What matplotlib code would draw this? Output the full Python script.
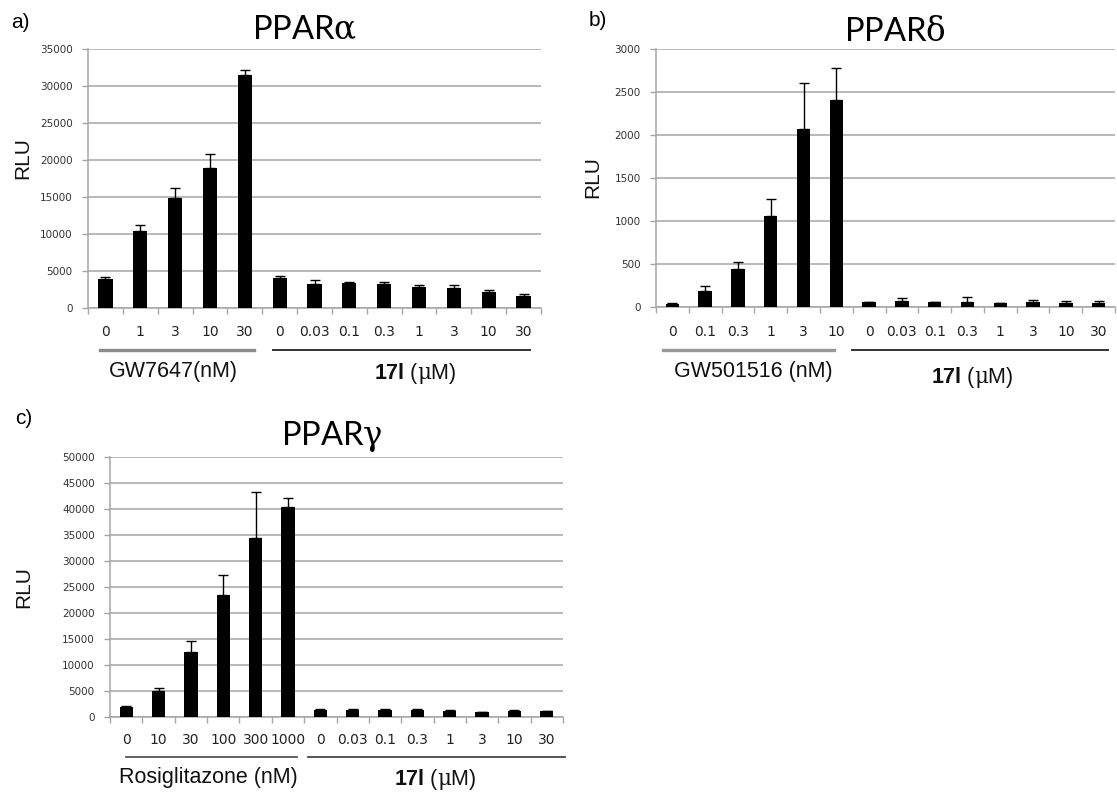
import numpy as np
import matplotlib
matplotlib.use("Agg")
import matplotlib.pyplot as plt
from matplotlib.lines import Line2D
import matplotlib.transforms as mtransforms

plt.rcParams['mathtext.fontset'] = 'custom'
plt.rcParams['mathtext.rm'] = 'DejaVu Serif'
plt.rcParams['mathtext.bf'] = 'Liberation Sans:bold'
plt.rcParams['mathtext.it'] = 'DejaVu Serif'

# ---------------- data ----------------
ref_a_labels = ['0', '1', '3', '10', '30']
ref_b_labels = ['0', '0.1', '0.3', '1', '3', '10']
ref_c_labels = ['0', '10', '30', '100', '300', '1000']
cmpd_labels = ['0', '0.03', '0.1', '0.3', '1', '3', '10', '30']

a_vals = [3900, 10400, 14800, 18900, 31500, 4000, 3200, 3400, 3200, 2800, 2650, 2200, 1600]
a_err = [300, 850, 1450, 1850, 650, 300, 550, 100, 300, 280, 450, 270, 300]

b_vals = [40, 185, 443, 1061, 2068, 2410, 55, 75, 55, 60, 45, 60, 50, 50]
b_err = [10, 60, 78, 200, 540, 373, 8, 27, 8, 60, 5, 25, 20, 15]

c_vals = [1900, 5000, 12500, 23500, 34400, 40300, 1400, 1300, 1300, 1400, 1200, 1000, 1100, 1100]
c_err = [300, 600, 2100, 3800, 8900, 1800, 200, 150, 150, 150, 100, 50, 200, 150]

titles = ['PPAR$\\mathrm{\\alpha}$', 'PPAR$\\mathrm{\\delta}$', 'PPAR$\\mathrm{\\gamma}$']
panel_tags = ['a)', 'b)', 'c)']
ref_names = ['GW7647(nM)', 'GW501516 (nM)', 'Rosiglitazone (nM)']
cmpd_name = '$\\mathbf{17l}$ ($\\mathrm{\\mu}$M)'
y_max = [35000, 3000, 50000]
y_step = [5000, 500, 5000]

W, H = 1117, 794
fig = plt.figure(figsize=(W / 100, H / 100), dpi=100)


def fx(x):
    return x / W


def fy(y):
    return 1 - y / H


GRID = '#a6a6a6'

# layout: (left, right, top, bottom) in px
boxes = [(88, 541, 49, 308), (656, 1115, 49, 307), (110, 563, 457, 717)]
# group line extents in data units and colours
ref_lines = [(-0.15, 4.27, '#8c8c8c', 2.4), (-0.29, 4.93, '#999999', 2.4), (0.0, 5.29, '#555555', 1.3)]
cmp_lines = [(4.82, 12.17, '#333333', 1.4), (5.48, 13.28, '#333333', 1.4), (5.63, 13.56, '#444444', 1.3)]
line_y = [350, 350, 757]
tick_y = [332, 332, 740]
ref_lab_pos = [(173, 372), (753, 372), (208, 777)]
cmp_lab_pos = [(415, 374), (972, 378), (435, 779)]
title_pos = [(304, 30), (895, 32), (332, 437)]
tag_pos = [(20, 22), (598, 20), (24, 418)]
rlu_pos = [(23, 158), (593, 177), (24, 587)]

datasets = [(ref_a_labels, a_vals, a_err), (ref_b_labels, b_vals, b_err), (ref_c_labels, c_vals, c_err)]

for k in range(3):
    l, r, t, b = boxes[k]
    ax = fig.add_axes([fx(l), fy(b), fx(r - l), (b - t) / H])
    ref_labels, vals, errs = datasets[k]
    labels = ref_labels + cmpd_labels
    n = len(labels)
    x = np.arange(n)
    vals = np.array(vals, dtype=float)
    errs = np.array(errs, dtype=float)
    ax.bar(x, vals, width=0.41, color='black', zorder=3)
    ax.errorbar(x, vals, yerr=[np.zeros(n), errs], fmt='none', ecolor='black',
                elinewidth=1.0, capsize=3.8, capthick=1.0, zorder=4)
    ax.set_xlim(-0.5, n - 0.5)
    ax.set_ylim(0, y_max[k])
    ax.set_yticks(np.arange(0, y_max[k] + 1, y_step[k]))
    ax.yaxis.grid(True, color=GRID, linewidth=1.1, zorder=0)
    ax.set_axisbelow(True)
    for s in ['top', 'right']:
        ax.spines[s].set_visible(False)
    for s in ['left', 'bottom']:
        ax.spines[s].set_color(GRID)
        ax.spines[s].set_linewidth(1.1)
    ax.tick_params(axis='y', length=4, width=1, color=GRID, labelsize=7.5,
                   labelcolor='#333333', pad=7)
    ax.set_xticks(x)
    ax.set_xticklabels([])
    ax.set_xticks(np.arange(-0.5, n, 1.0), minor=True)
    ax.tick_params(axis='x', which='major', length=0)
    ax.tick_params(axis='x', which='minor', length=4, width=1, color=GRID)
    # x tick labels
    trans = mtransforms.blended_transform_factory(ax.transData, fig.transFigure)
    for xi, lab in zip(x, labels):
        fig.text(0, 0, lab, transform=trans, fontsize=10, color='#222222',
                 ha='center', va='center').set_position((xi, fy(tick_y[k])))
    # group lines
    x0, x1, col, lw = ref_lines[k]
    fig.add_artist(Line2D([x0, x1], [fy(line_y[k])] * 2, transform=trans, color=col, lw=lw))
    x0, x1, col, lw = cmp_lines[k]
    fig.add_artist(Line2D([x0, x1], [fy(line_y[k])] * 2, transform=trans, color=col, lw=lw))
    # group labels
    fig.text(fx(ref_lab_pos[k][0]), fy(ref_lab_pos[k][1]), ref_names[k],
             family='Liberation Sans', fontsize=15.5, color='#111111', ha='center', va='center')
    fig.text(fx(cmp_lab_pos[k][0]), fy(cmp_lab_pos[k][1]), cmpd_name,
             family='Liberation Sans', fontsize=15.5, color='#111111', ha='center', va='center')
    # title
    fig.text(fx(title_pos[k][0]), fy(title_pos[k][1]), titles[k], family='Lato',
             fontsize=23.5, color='black', ha='center', va='center')
    # panel tag
    fig.text(fx(tag_pos[k][0]), fy(tag_pos[k][1]), panel_tags[k], family='Liberation Sans',
             fontsize=15, color='black', ha='center', va='center')
    # RLU
    fig.text(fx(rlu_pos[k][0]), fy(rlu_pos[k][1]), 'RLU', family='Liberation Sans',
             fontsize=15, color='#111111', ha='center', va='center', rotation=90)

fig.savefig('out.png', dpi=100, facecolor='white')
